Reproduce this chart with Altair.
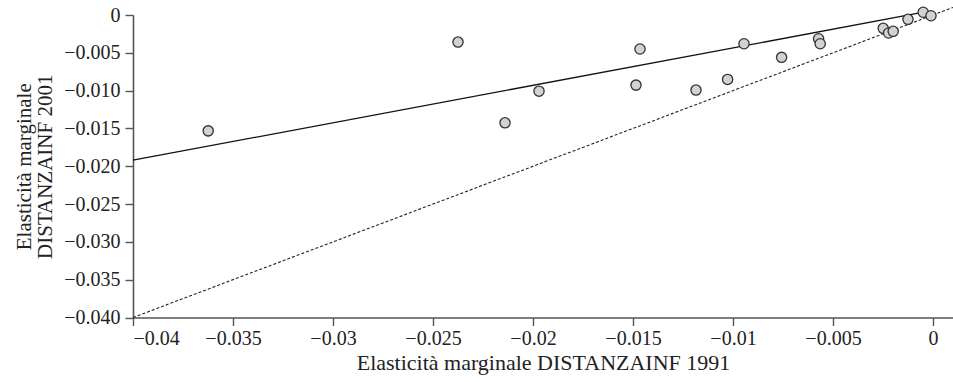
import altair as alt
import pandas as pd

# Points: marginal elasticity DISTANZAINF 1991 (x) vs 2001 (y)
x1991 = [-0.03624, -0.02375, -0.0214, -0.0197, -0.01465, -0.01485, -0.01185,
         -0.01027, -0.00945, -0.00757, -0.00572, -0.00564, -0.00249, -0.00222,
         -0.00199, -0.00125, -0.00049, -0.0001]
y2001 = [-0.01532, -0.00358, -0.01426, -0.01007, -0.0045, -0.00927, -0.00993,
         -0.00852, -0.0038, -0.0056, -0.00314, -0.0038, -0.00176, -0.00238,
         -0.00216, -0.00057, 0.00036, -0.0001]

# Fitted regression line endpoints
fit_x = [-0.04, -0.0006]
fit_y = [-0.0192, 0.0003]

# 45-degree bisector endpoints
bis_x = [-0.04, 0.001]
bis_y = [-0.04, 0.001]

x_ticks = [-0.04, -0.035, -0.03, -0.025, -0.02, -0.015, -0.01, -0.005, 0]
y_ticks = [0, -0.005, -0.010, -0.015, -0.020, -0.025, -0.030, -0.035, -0.040]

pts = pd.DataFrame({"x": x1991, "y": y2001})
fit = pd.DataFrame({"x": fit_x, "y": fit_y})
bis = pd.DataFrame({"x": bis_x, "y": bis_y})

FONT = "Liberation Serif"

xscale = alt.Scale(domain=[-0.04, 0.001], nice=False, zero=False)
yscale = alt.Scale(domain=[-0.04, 0], nice=False, zero=False)

xaxis = alt.Axis(values=x_ticks, format="~g", title="Elasticità marginale DISTANZAINF 1991",
                 titlePadding=4)
yaxis = alt.Axis(values=y_ticks,
                 labelExpr="datum.value == 0 ? '0' : format(datum.value, '.3f')",
                 title=["Elasticità marginale", "DISTANZAINF 2001"],
                 titlePadding=8, titleLineHeight=21, titleFontSize=21)

X = alt.X("x:Q", scale=xscale, axis=xaxis)
Y = alt.Y("y:Q", scale=yscale, axis=yaxis)

bis_layer = alt.Chart(bis).mark_line(color="#222", strokeWidth=1.1, strokeDash=[3, 2],
                                     clip=False).encode(x=X, y=Y)
fit_layer = alt.Chart(fit).mark_line(color="#111", strokeWidth=1.3, clip=False).encode(x=X, y=Y)
pt_layer = alt.Chart(pts).mark_point(shape="circle", filled=True, fill="#d2d2d2",
                                     stroke="#333", strokeWidth=1.3, size=105, opacity=1,
                                     clip=False).encode(x=X, y=Y)

chart = (
    alt.layer(bis_layer, fit_layer, pt_layer)
    .properties(width=820, height=302.5,
                autosize=alt.AutoSizeParams(type="none"),
                padding={"left": 133, "top": 15, "right": 0, "bottom": 64.5})
    .configure_view(stroke=None)
    .configure_axis(grid=False, domainColor="#555", domainWidth=1.6,
                    tickColor="#555", tickWidth=1.4, tickSize=8,
                    labelFont=FONT, labelFontSize=20, labelColor="#222", labelPadding=5,
                    titleFont=FONT, titleFontSize=22, titleFontWeight="normal",
                    titleColor="#222")
    .configure_axisX(labelPadding=3)
)

chart.save("out.html", embed_options={"renderer": "svg", "actions": False})
